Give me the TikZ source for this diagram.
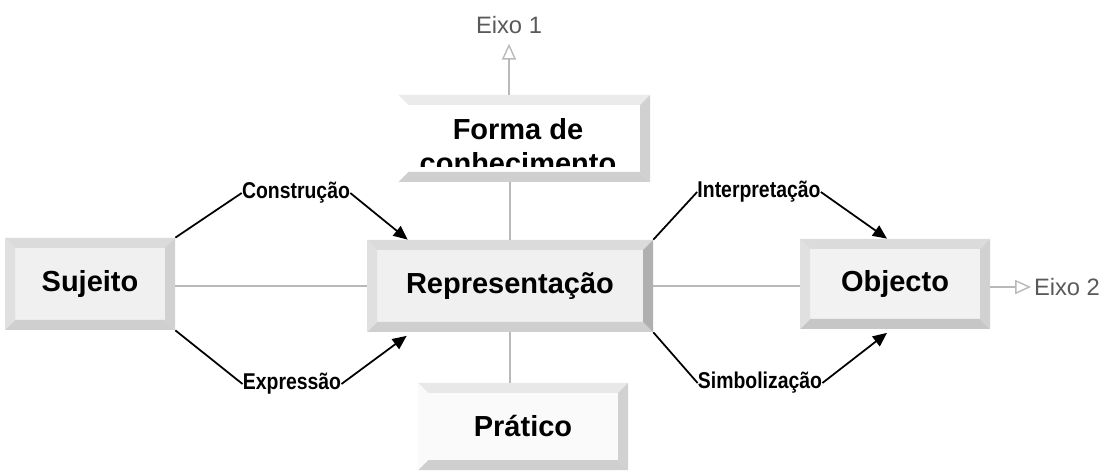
\documentclass[tikz,border=0pt]{standalone}
\usepackage{fontspec}
\setmainfont{Liberation Sans}
\newfontfamily\narrowfont[FakeStretch=0.85]{Liberation Sans}
\usetikzlibrary{arrows.meta}

\newcommand{\bevw}{0.2cm}

\tikzset{
	bevT/.style={fill=gray!28},
	bevB/.style={fill=gray!38},
	bevL/.style={fill=gray!24},
	bevR/.style={fill=gray!36},
	bevelbox/.style={fill=gray!12, inner sep=0pt, font=\fontsize{16.5}{19}\selectfont\bfseries,
		path picture={
			\fill[bevT] (path picture bounding box.north west) -- (path picture bounding box.north east)
				-- ([xshift=-\bevw,yshift=-\bevw]path picture bounding box.north east)
				-- ([xshift=\bevw,yshift=-\bevw]path picture bounding box.north west) -- cycle;
			\fill[bevB] (path picture bounding box.south west) -- (path picture bounding box.south east)
				-- ([xshift=-\bevw,yshift=\bevw]path picture bounding box.south east)
				-- ([xshift=\bevw,yshift=\bevw]path picture bounding box.south west) -- cycle;
			\fill[bevL] (path picture bounding box.north west) -- (path picture bounding box.south west)
				-- ([xshift=\bevw,yshift=\bevw]path picture bounding box.south west)
				-- ([xshift=\bevw,yshift=-\bevw]path picture bounding box.north west) -- cycle;
			\fill[bevR] (path picture bounding box.north east) -- (path picture bounding box.south east)
				-- ([xshift=-\bevw,yshift=\bevw]path picture bounding box.south east)
				-- ([xshift=-\bevw,yshift=-\bevw]path picture bounding box.north east) -- cycle;
		}},
	lbl/.style={inner sep=0pt, font=\fontsize{13}{15}\narrowfont\bfseries},
	axislbl/.style={inner sep=1.5pt, text=black!65, font=\fontsize{13.5}{15}\selectfont},
	link/.style={draw=black, line width=1pt},
	linkarrow/.style={link, -{Triangle[length=8pt,width=7pt]}},
	axisline/.style={draw=gray!55, line width=1.5pt},
	axisarrow/.style={axisline, -{Triangle[open,length=9pt,width=8pt,line width=0.8pt]}}
}

\begin{document}
\begin{tikzpicture}
	\useasboundingbox (0,0) rectangle (22,9.44);
	% boxes
	\node[bevelbox, minimum width=3.4cm, minimum height=1.84cm] (suj) at (1.8,3.76) {Sujeito};
	\node[bevelbox, minimum width=5.72cm, minimum height=1.84cm, bevR/.style={fill=gray!62}] (rep) at (10.2,3.72) {Representação};
	\node[bevelbox, minimum width=3.8cm, minimum height=1.8cm, fill=gray!10, bevB/.style={fill=gray!45}] (obj) at (17.9,3.76) {Objecto};
	\node[bevelbox, minimum width=5.04cm, minimum height=1.74cm, fill=white, bevL/.style={fill=white}, bevT/.style={fill=gray!16}] (forma) at (10.48,6.67) {};
	\node[bevelbox, minimum width=4.2cm, minimum height=1.74cm, fill=gray!4, bevL/.style={fill=gray!4}, bevT/.style={fill=gray!18}] (prat) at (10.46,0.91) {Prático};
	\begin{scope}
		\clip (forma.north west) rectangle (forma.east |- 0,6.1);
		\node[bevelbox, fill=none, path picture={}, align=center] (formatxt) at (10.36,6.52) {Forma de\\conhecimento};
	\end{scope}

	% axes
	\node[axislbl] (eixo1) at (10.18,8.94) {Eixo 1};
	\node[axislbl, anchor=west] (eixo2) at (20.62,3.7) {Eixo 2};
	\draw[axisline] (suj.east |- rep) -- (rep.west);
	\draw[axisline] (rep.east) -- (obj.west |- rep);
	\draw[axisline] (rep.north) -- (rep.north |- forma.south);
	\draw[axisline] (rep.south) -- (rep.south |- prat.north);
	\draw[axisarrow, shorten >=4pt] (eixo1.south |- forma.north) -- (eixo1.south);
	\draw[axisarrow] (obj.east |- eixo2.west) -- (eixo2.west);

	% labelled links
	\node[lbl] (constr) at (5.92,5.58) {Construção};
	\node[lbl] (expr) at (5.84,1.76) {Expressão};
	\node[lbl] (interp) at (15.18,5.6) {Interpretação};
	\node[lbl] (simb) at (15.2,1.78) {Simbolização};
	\draw[link] (suj.north east) -- (constr.west);
	\draw[linkarrow] (constr.east) -- ([xshift=0.82cm]rep.north west);
	\draw[link] (suj.south east) -- (expr.west);
	\draw[linkarrow] (expr.east) -- ([xshift=0.8cm,yshift=-2pt]rep.south west);
	\draw[link] (rep.north east) -- (interp.west);
	\draw[linkarrow] (interp.east) -- ([xshift=-0.16cm]obj.north);
	\draw[link] (rep.south east) -- (simb.west);
	\draw[linkarrow] (simb.east) -- ([xshift=-0.16cm,yshift=-2pt]obj.south);
\end{tikzpicture}
\end{document}
